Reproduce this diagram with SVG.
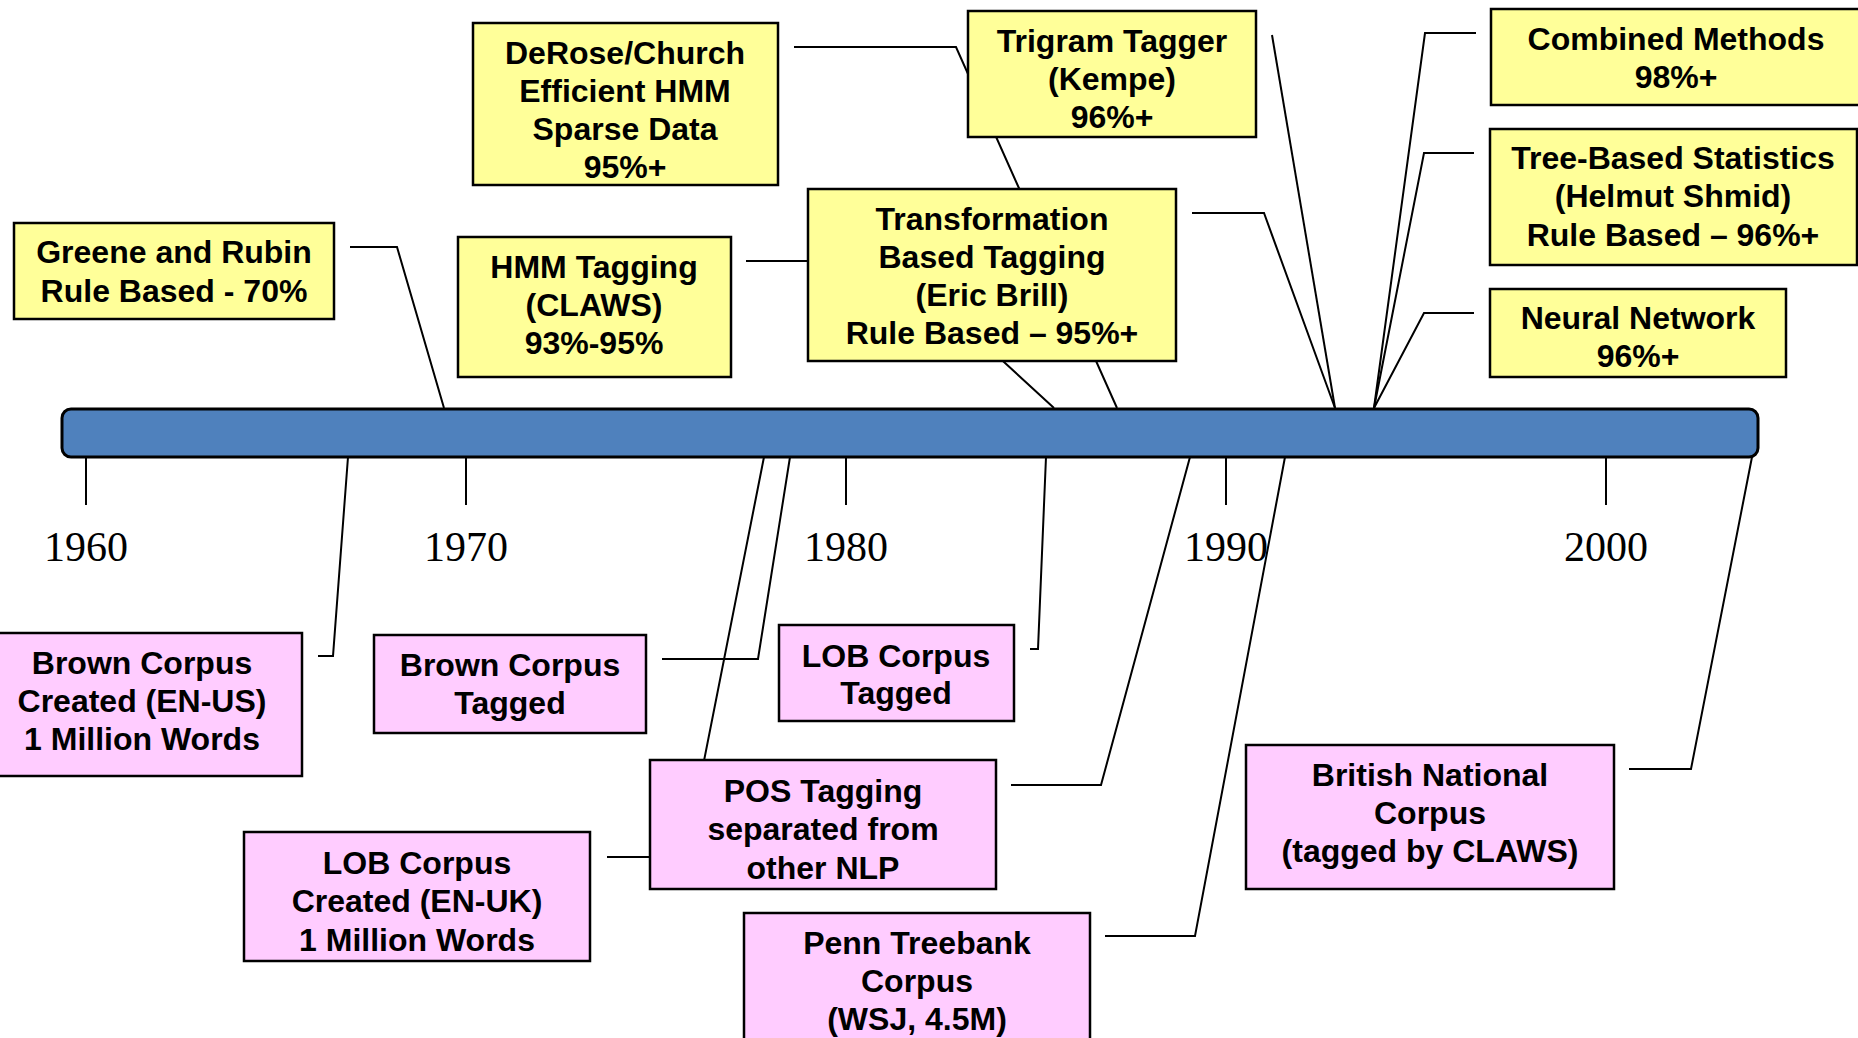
<svg xmlns="http://www.w3.org/2000/svg" width="1858" height="1038" viewBox="0 0 1858 1038">
<style>
.y{fill:#FFFF99;stroke:#000;stroke-width:2.5}
.p{fill:#FFCCFF;stroke:#000;stroke-width:2.5}
.t{font-family:"Liberation Sans",Arial,sans-serif;font-weight:bold;font-size:32px;fill:#000;text-anchor:middle}
.yr{font-family:"Liberation Serif","Times New Roman",serif;font-size:42px;fill:#000;text-anchor:middle}
.c{fill:none;stroke:#000;stroke-width:2}
</style>
<rect width="1858" height="1038" fill="#fff"/>
<g id="connectors">
<polyline class="c" points="350,247 397,247 444,408"/>
<polyline class="c" points="794,47 956,47 1117,408"/>
<polyline class="c" points="746,261 894,261 1054,408"/>
<polyline class="c" points="1192,213 1264,213 1335,408"/>
<polyline class="c" points="1272,35 1335,408"/>
<polyline class="c" points="1476,33 1425,33 1374,408"/>
<polyline class="c" points="1474,153 1424,153 1374,408"/>
<polyline class="c" points="1474,313 1424,313 1374,408"/>
<polyline class="c" points="318,656 333,656 348,457"/>
<polyline class="c" points="662,659 758,659 790,457"/>
<polyline class="c" points="607,857 685,857 764,457"/>
<polyline class="c" points="1030,649 1038,649 1046,457"/>
<polyline class="c" points="1011,785 1101,785 1190,457"/>
<polyline class="c" points="1105,936 1195,936 1285,457"/>
<polyline class="c" points="1629,769 1691,769 1752,457"/>
</g>
<g id="timeline">
<rect x="62" y="409" width="1696" height="48" rx="9" fill="#4F81BD" stroke="#000" stroke-width="3"/>
<g stroke="#000" stroke-width="2">
<line x1="86" y1="457" x2="86" y2="505"/>
<line x1="466" y1="457" x2="466" y2="505"/>
<line x1="846" y1="457" x2="846" y2="505"/>
<line x1="1226" y1="457" x2="1226" y2="505"/>
<line x1="1606" y1="457" x2="1606" y2="505"/>
</g>
<text class="yr" x="86" y="561">1960</text>
<text class="yr" x="466" y="561">1970</text>
<text class="yr" x="846" y="561">1980</text>
<text class="yr" x="1226" y="561">1990</text>
<text class="yr" x="1606" y="561">2000</text>
</g>
<g id="greene">
<rect class="y" x="14" y="223" width="320" height="96"/>
<text class="t" x="174" y="263">Greene and Rubin</text>
<text class="t" x="174" y="302">Rule Based - 70%</text>
</g>
<g id="derose">
<rect class="y" x="473" y="23" width="305" height="162"/>
<text class="t" x="625" y="64">DeRose/Church</text>
<text class="t" x="625" y="102">Efficient HMM</text>
<text class="t" x="625" y="140">Sparse Data</text>
<text class="t" x="625" y="178">95%+</text>
</g>
<g id="hmm">
<rect class="y" x="458" y="237" width="273" height="140"/>
<text class="t" x="594" y="278">HMM Tagging</text>
<text class="t" x="594" y="316">(CLAWS)</text>
<text class="t" x="594" y="354">93%-95%</text>
</g>
<g id="trigram">
<rect class="y" x="968" y="11" width="288" height="126"/>
<text class="t" x="1112" y="52">Trigram Tagger</text>
<text class="t" x="1112" y="90">(Kempe)</text>
<text class="t" x="1112" y="128">96%+</text>
</g>
<g id="transformation">
<rect class="y" x="808" y="189" width="368" height="172"/>
<text class="t" x="992" y="230">Transformation</text>
<text class="t" x="992" y="268">Based Tagging</text>
<text class="t" x="992" y="306">(Eric Brill)</text>
<text class="t" x="992" y="344">Rule Based – 95%+</text>
</g>
<g id="combined">
<rect class="y" x="1491" y="9" width="370" height="96"/>
<text class="t" x="1676" y="50">Combined Methods</text>
<text class="t" x="1676" y="88">98%+</text>
</g>
<g id="treebased">
<rect class="y" x="1490" y="129" width="367" height="136"/>
<text class="t" x="1673" y="169">Tree-Based Statistics</text>
<text class="t" x="1673" y="207">(Helmut Shmid)</text>
<text class="t" x="1673" y="246">Rule Based – 96%+</text>
</g>
<g id="neural">
<rect class="y" x="1490" y="289" width="296" height="88"/>
<text class="t" x="1638" y="329">Neural Network</text>
<text class="t" x="1638" y="367">96%+</text>
</g>
<g id="brown-created">
<rect class="p" x="-18" y="633" width="320" height="143"/>
<text class="t" x="142" y="674">Brown Corpus</text>
<text class="t" x="142" y="712">Created (EN-US)</text>
<text class="t" x="142" y="750">1 Million Words</text>
</g>
<g id="brown-tagged">
<rect class="p" x="374" y="635" width="272" height="98"/>
<text class="t" x="510" y="676">Brown Corpus</text>
<text class="t" x="510" y="714">Tagged</text>
</g>
<g id="lob-tagged">
<rect class="p" x="779" y="625" width="235" height="96"/>
<text class="t" x="896" y="667">LOB Corpus</text>
<text class="t" x="896" y="704">Tagged</text>
</g>
<g id="pos-tagging">
<rect class="p" x="650" y="760" width="346" height="129"/>
<text class="t" x="823" y="802">POS Tagging</text>
<text class="t" x="823" y="840">separated from</text>
<text class="t" x="823" y="879">other NLP</text>
</g>
<g id="lob-created">
<rect class="p" x="244" y="832" width="346" height="129"/>
<text class="t" x="417" y="874">LOB Corpus</text>
<text class="t" x="417" y="912">Created (EN-UK)</text>
<text class="t" x="417" y="951">1 Million Words</text>
</g>
<g id="penn">
<rect class="p" x="744" y="913" width="346" height="140"/>
<text class="t" x="917" y="954">Penn Treebank</text>
<text class="t" x="917" y="992">Corpus</text>
<text class="t" x="917" y="1030">(WSJ, 4.5M)</text>
</g>
<g id="bnc">
<rect class="p" x="1246" y="745" width="368" height="144"/>
<text class="t" x="1430" y="786">British National</text>
<text class="t" x="1430" y="824">Corpus</text>
<text class="t" x="1430" y="862">(tagged by CLAWS)</text>
</g>
</svg>
